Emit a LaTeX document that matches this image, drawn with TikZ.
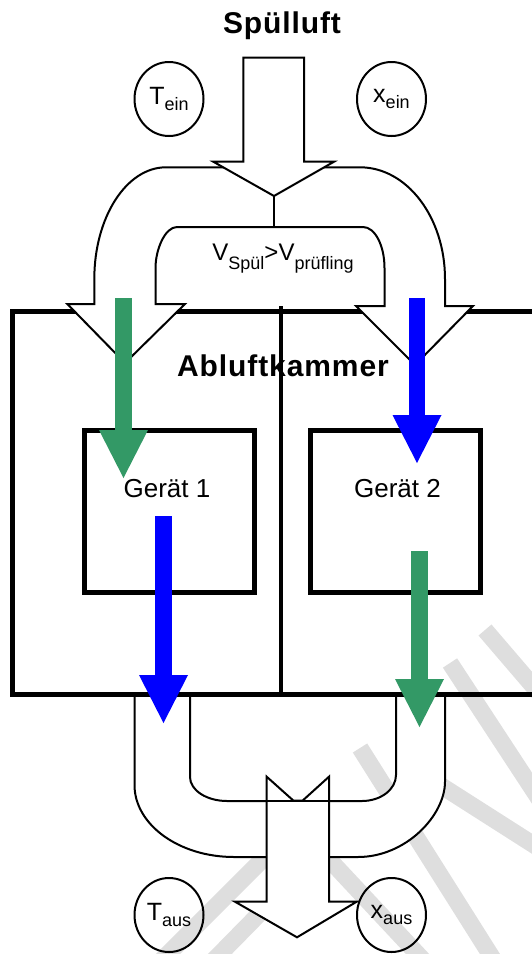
\documentclass[tikz,border=0pt]{standalone}
\usepackage{fontspec}
\setmainfont{Liberation Sans}
\usetikzlibrary{arrows.meta,shapes.geometric}
\definecolor{luftgruen}{RGB}{51,153,102}
\definecolor{luftblau}{RGB}{0,0,255}
\definecolor{wasserzeichen}{RGB}{222,222,222}
\newcommand{\tief}[2][6pt]{\raisebox{-#1}{\fontsize{18}{18}\selectfont #2}}

\begin{document}
\begin{tikzpicture}[x=1pt,y=-1pt,
    sensor/.style={ellipse, draw, line width=2pt, minimum width=69pt, minimum height=74pt, inner sep=0pt, font=\fontsize{25}{25}\selectfont},
    kasten/.style={draw, line width=5pt, minimum width=170pt, minimum height=162pt, inner sep=0pt},
    titel/.style={anchor=base, font=\fontsize{30}{30}\selectfont\bfseries\addfontfeature{LetterSpace=3}},
    beschriftung/.style={anchor=base, font=\fontsize{26}{26}\selectfont},
    rohr/.style={draw, fill=white, line width=2pt},
    strom/.style={line width=16.5pt, -{Triangle[length=48pt,width=49pt,line width=0pt]}},
    zeichen/.style={wasserzeichen, line width=17pt}]
    \useasboundingbox (0,0) rectangle (531,954);
    % Wasserzeichen
    \draw[zeichen] (160,962) -- (272,850);
    \draw[zeichen] (212,962) -- (265,908);
    \draw[zeichen] (325,855) -- (425,962);
    \draw[zeichen] (360,748) -- (495,962);
    \draw[zeichen] (440,785) -- (545,852);
    \draw[zeichen] (450,663) -- (545,808);
    \draw[zeichen] (485,630) -- (545,700);
    % Abluft unten
    \path[rohr] (134.5,694) -- (134.5,785) .. controls (134.5,824.7) and (179.1,857) .. (234,857) -- (358,857) .. controls (406,857) and (445,815.4) .. (445,781.7) -- (445,694) -- (396,694) -- (396,775) .. controls (396,789.4) and (380.8,801) .. (362,801) -- (227,801) .. controls (206.6,801) and (190,790.2) .. (190,777) -- (190,694) -- cycle;
    \path[rohr] (266.7,776.7) -- (293.5,800.7) -- (302.5,800.7) -- (329,776.7) -- (329,901.7) -- (356.7,901.7) -- (297,937.3) -- (235,901.7) -- (266.7,901.7) -- cycle;
    \draw[line width=2pt] (266.7,800.7) -- (329,800.7);
    % Kammer
    \draw[line width=5pt] (535,311) -- (12.5,311) -- (12.5,694) -- (535,694);
    \draw[line width=4pt] (280.7,306) -- (280.7,694);
    % Spuelluft oben
    \path[rohr] (94.3,304) -- (94.3,279) .. controls (94.3,217.3) and (126.4,167.3) .. (166,167.3) -- (360,167.3) .. controls (406.9,167.3) and (445,217.3) .. (445,279) -- (445,306) -- (473,306) -- (415,365) -- (356,306) -- (384.5,306) -- (384.5,268) .. controls (384.5,245.4) and (374.9,227) .. (363,227) -- (177,227) .. controls (165.1,227) and (155.5,249.4) .. (155.5,268) -- (155.5,304) -- (185,304) -- (125,363) -- (67.3,304) -- cycle;
    \coordinate (spitze) at (274,196);
    \coordinate (verzweigung) at (274,227);
    \draw[line width=2pt] (spitze) -- (verzweigung);
    \path[rohr] (243.3,57.5) -- (304,57.5) -- (304,161.7) -- (334,161.7) -- (spitze) -- (213.3,161.7) -- (243.3,161.7) -- cycle;
    % Geraete
    \node[kasten] (geraet1) at (169,511) {};
    \node[kasten] (geraet2) at (395.3,511) {};
    \node[beschriftung] (name1) at (167,497.5) {Gerät 1};
    \node[beschriftung] (name2) at (397.5,497.5) {Gerät 2};
    \node[titel] (spuelluft) at (282,33.5) {Spülluft};
    \node[titel] (kammer) at (283,376.5) {Abluftkammer};
    \node[beschriftung, font=\fontsize{24}{24}\selectfont] (bedingung) at (283,260) {V\tief[9pt]{Spül}>V\tief[9pt]{prüfling}};
    % Messstellen
    \node[sensor] (tein) at (169,99) {T\tief{ein}};
    \node[sensor] (xein) at (391.5,99) {x\tief{ein}};
    \node[sensor] (taus) at (169,915) {T\tief{aus}};
    \node[sensor] (xaus) at (391.5,915) {x\tief{aus}};
    % Stroeme
    \coordinate (gruen1a) at (123.5,298);
    \coordinate (gruen1b) at (123.5,478);
    \coordinate (blau1a) at (417,298);
    \coordinate (blau1b) at (417,463);
    \coordinate (blau2a) at (163.5,516);
    \coordinate (blau2b) at (163.5,723);
    \coordinate (gruen2a) at (419.5,551);
    \coordinate (gruen2b) at (419.5,727);
    \draw[strom, luftgruen] (gruen1a) -- (gruen1b);
    \draw[strom, luftblau] (blau1a) -- (blau1b);
    \draw[strom, luftblau] (blau2a) -- (blau2b);
    \draw[strom, luftgruen] (gruen2a) -- (gruen2b);
\end{tikzpicture}
\end{document}
